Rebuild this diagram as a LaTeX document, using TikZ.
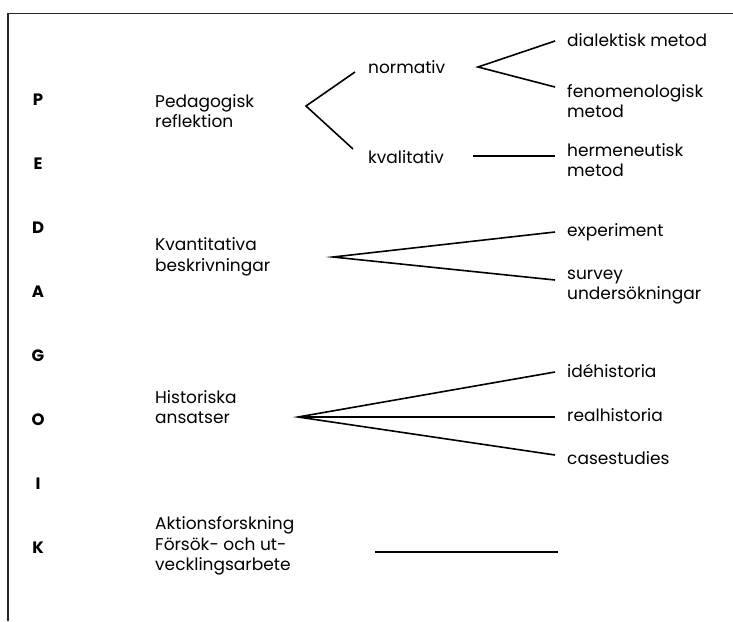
\documentclass[tikz,border=0pt]{standalone}
\usepackage{fontspec}
\setmainfont{Poppins}
\usepackage{tikz}
\usetikzlibrary{positioning}
\tikzstyle{branch} = [draw, line width=1.6pt, line join=miter]
\tikzstyle{frame} = [draw, line width=1.4pt, black!85]
\tikzstyle{letter} = [inner sep=0pt, font={\bfseries\fontsize{16.5}{16.5}\selectfont}]
\tikzstyle{field} = [anchor=west, align=left, inner sep=0pt,
                     font={\fontsize{17}{20.5}\selectfont}]

\begin{document}
\begin{tikzpicture}[
      x=1pt, y=-1pt,
      node distance = 64pt
    ]
      \useasboundingbox (0,0) rectangle (733,621);
      \draw[frame] (733,13.5) -- (8,13.5) -- (8,621);

      % the word down the left side
      \node[letter] (lP) at (38,100) {P};
      \node[letter] (lE) [below of=lP] {E};
      \node[letter] (lD) [below of=lE] {D};
      \node[letter] (lA) [below of=lD] {A};
      \node[letter] (lG) [below of=lA] {G};
      \node[letter] (lO) [below of=lG] {O};
      \node[letter] (lI) [below of=lO] {I};
      \node[letter] (lK) [below of=lI] {K};

      % main fields
      \node[field] (ped)   at (155,111) {Pedagogisk\\reflektion};
      \node[field] (kvant) at (155,257) {Kvantitativa\\beskrivningar};
      \node[field] (hist)  at (155,407) {Historiska\\ansatser};
      \node[field] (akt)   at (155,546) {Aktionsforskning\\Försök- och ut-\\vecklingsarbete};

      % second level
      \node[field] (norm) at (368,67)  {normativ};
      \node[field] (kval) at (368,157) {kvalitativ};

      % methods
      \node[field] (dial)  at (567,40)  {dialektisk metod};
      \node[field] (fenom) at (567,101) {fenomenologisk\\metod};
      \node[field] (herm)  at (567,160) {hermeneutisk\\metod};
      \node[field] (exper) at (567,232) {experiment};
      \node[field] (surv)  at (567,287) {survey\\undersökningar};
      \node[field] (idea)  at (567,371) {idéhistoria};
      \node[field] (real)  at (567,415) {realhistoria};
      \node[field] (case)  at (567,458) {casestudies};

      % forks and line ends
      \coordinate (pedFork)   at (306,106);
      \coordinate (normIn)    at (355,72);
      \coordinate (kvalIn)    at (353,149);
      \coordinate (normFork)  at (478,67);
      \coordinate (dialIn)    at (555,41);
      \coordinate (fenomIn)   at (555,87);
      \coordinate (kvalOut)   at (473,156);
      \coordinate (hermIn)    at (555,156);
      \coordinate (kvantFork) at (333,257);
      \coordinate (experIn)   at (555,232);
      \coordinate (survIn)    at (555,280);
      \coordinate (histFork)  at (298,417);
      \coordinate (ideaIn)    at (555,372);
      \coordinate (realIn)    at (555,417);
      \coordinate (caseIn)    at (555,455);
      \coordinate (aktOut)    at (375,552);
      \coordinate (aktEnd)    at (558,552);

      \path[branch] (normIn) -- (pedFork) -- (kvalIn);
      \path[branch] (dialIn) -- (normFork) -- (fenomIn);
      \path[branch] (kvalOut) -- (hermIn);
      \path[branch] (experIn) -- (kvantFork) -- (survIn);
      \path[branch] (ideaIn) -- (histFork) -- (caseIn);
      \path[branch] (histFork) -- (realIn);
      \path[branch] (aktOut) -- (aktEnd);
    \end{tikzpicture}
\end{document}
